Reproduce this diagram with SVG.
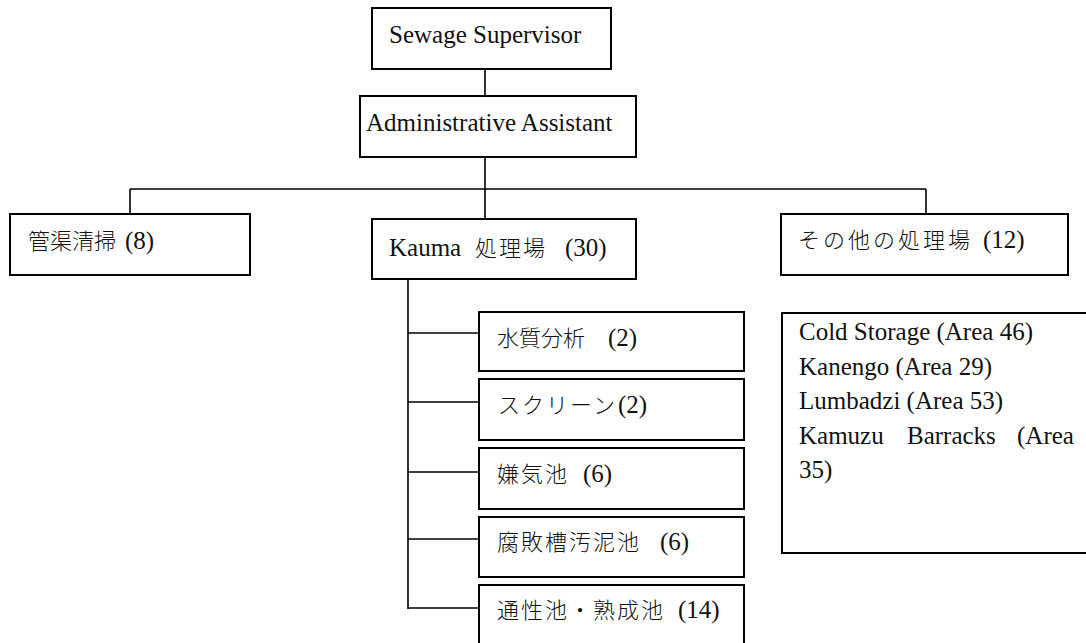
<svg xmlns="http://www.w3.org/2000/svg" width="1086" height="643" viewBox="0 0 1086 643">
<style>
  .box { fill: #ffffff; stroke: #000000; stroke-width: 2; }
  .conn { stroke: #000000; stroke-width: 1.6; fill: none; }
  .t { font-family: "Liberation Serif", "Times New Roman", Times, serif; font-size: 25px; fill: #111111; }
  .cjk { font-family: "Noto Sans CJK JP", "Noto Sans CJK SC", sans-serif; font-size: 22px; font-weight: 300; letter-spacing: 2px; }
</style>
<rect width="1086" height="643" fill="#ffffff"/>
<g id="connectors">
  <line class="conn" x1="485" y1="69" x2="485" y2="96"/>
  <line class="conn" x1="485" y1="157" x2="485" y2="219"/>
  <line class="conn" x1="130" y1="189" x2="926" y2="189"/>
  <line class="conn" x1="130" y1="189" x2="130" y2="214"/>
  <line class="conn" x1="926" y1="189" x2="926" y2="214"/>
  <line class="conn" x1="408" y1="279" x2="408" y2="609"/>
  <line class="conn" x1="408" y1="333" x2="479" y2="333"/>
  <line class="conn" x1="408" y1="402" x2="479" y2="402"/>
  <line class="conn" x1="408" y1="472" x2="479" y2="472"/>
  <line class="conn" x1="408" y1="539" x2="479" y2="539"/>
  <line class="conn" x1="408" y1="608" x2="479" y2="608"/>
</g>
<g id="sewage-supervisor">
  <rect class="box" x="372" y="8" width="239" height="61"/>
  <text class="t" x="389" y="43">Sewage Supervisor</text>
</g>
<g id="administrative-assistant">
  <rect class="box" x="360" y="96" width="276" height="61"/>
  <text class="t" x="366" y="131">Administrative Assistant</text>
</g>
<g id="pipe-cleaning">
  <rect class="box" x="10" y="214" width="240" height="61"/>
  <text class="t" x="28" y="249"><tspan class="cjk" style="letter-spacing:0px">管渠清掃</tspan> <tspan x="125">(8)</tspan></text>
</g>
<g id="kauma-plant">
  <rect class="box" x="372" y="219" width="264" height="60"/>
  <text class="t" x="389" y="256">Kauma <tspan class="cjk" x="475">処理場</tspan> <tspan x="565">(30)</tspan></text>
</g>
<g id="other-plants">
  <rect class="box" x="781" y="214" width="287" height="61"/>
  <text class="t" x="798" y="248"><tspan class="cjk" style="letter-spacing:3px">その他の処理場</tspan> <tspan x="983">(12)</tspan></text>
</g>
<g id="water-quality">
  <rect class="box" x="479" y="312" width="265" height="59"/>
  <text class="t" x="497" y="346"><tspan class="cjk" style="letter-spacing:0px">水質分析</tspan> <tspan x="608">(2)</tspan></text>
</g>
<g id="screen">
  <rect class="box" x="479" y="379" width="265" height="61"/>
  <text class="t" x="498" y="413"><tspan class="cjk" style="letter-spacing:2px">スクリーン</tspan><tspan x="618">(2)</tspan></text>
</g>
<g id="anaerobic-pond">
  <rect class="box" x="479" y="448" width="265" height="61"/>
  <text class="t" x="497" y="482"><tspan class="cjk">嫌気池</tspan> <tspan x="583">(6)</tspan></text>
</g>
<g id="septic-sludge-pond">
  <rect class="box" x="479" y="517" width="265" height="60"/>
  <text class="t" x="497" y="550"><tspan class="cjk">腐敗槽汚泥池</tspan> <tspan x="660">(6)</tspan></text>
</g>
<g id="facultative-maturation-pond">
  <rect class="box" x="479" y="585" width="265" height="70"/>
  <text class="t" x="497" y="618"><tspan class="cjk">通性池・熟成池</tspan> <tspan x="678">(14)</tspan></text>
</g>
<g id="other-plants-list">
  <rect class="box" x="782" y="313" width="330" height="240"/>
  <text class="t" x="799" y="340">Cold Storage (Area 46)</text>
  <text class="t" x="799" y="374.5">Kanengo (Area 29)</text>
  <text class="t" x="799" y="409">Lumbadzi (Area 53)</text>
  <text class="t" x="799" y="443.5">Kamuzu <tspan x="907">Barracks</tspan> <tspan x="1017">(Area</tspan></text>
  <text class="t" x="799" y="478">35)</text>
</g>
</svg>
